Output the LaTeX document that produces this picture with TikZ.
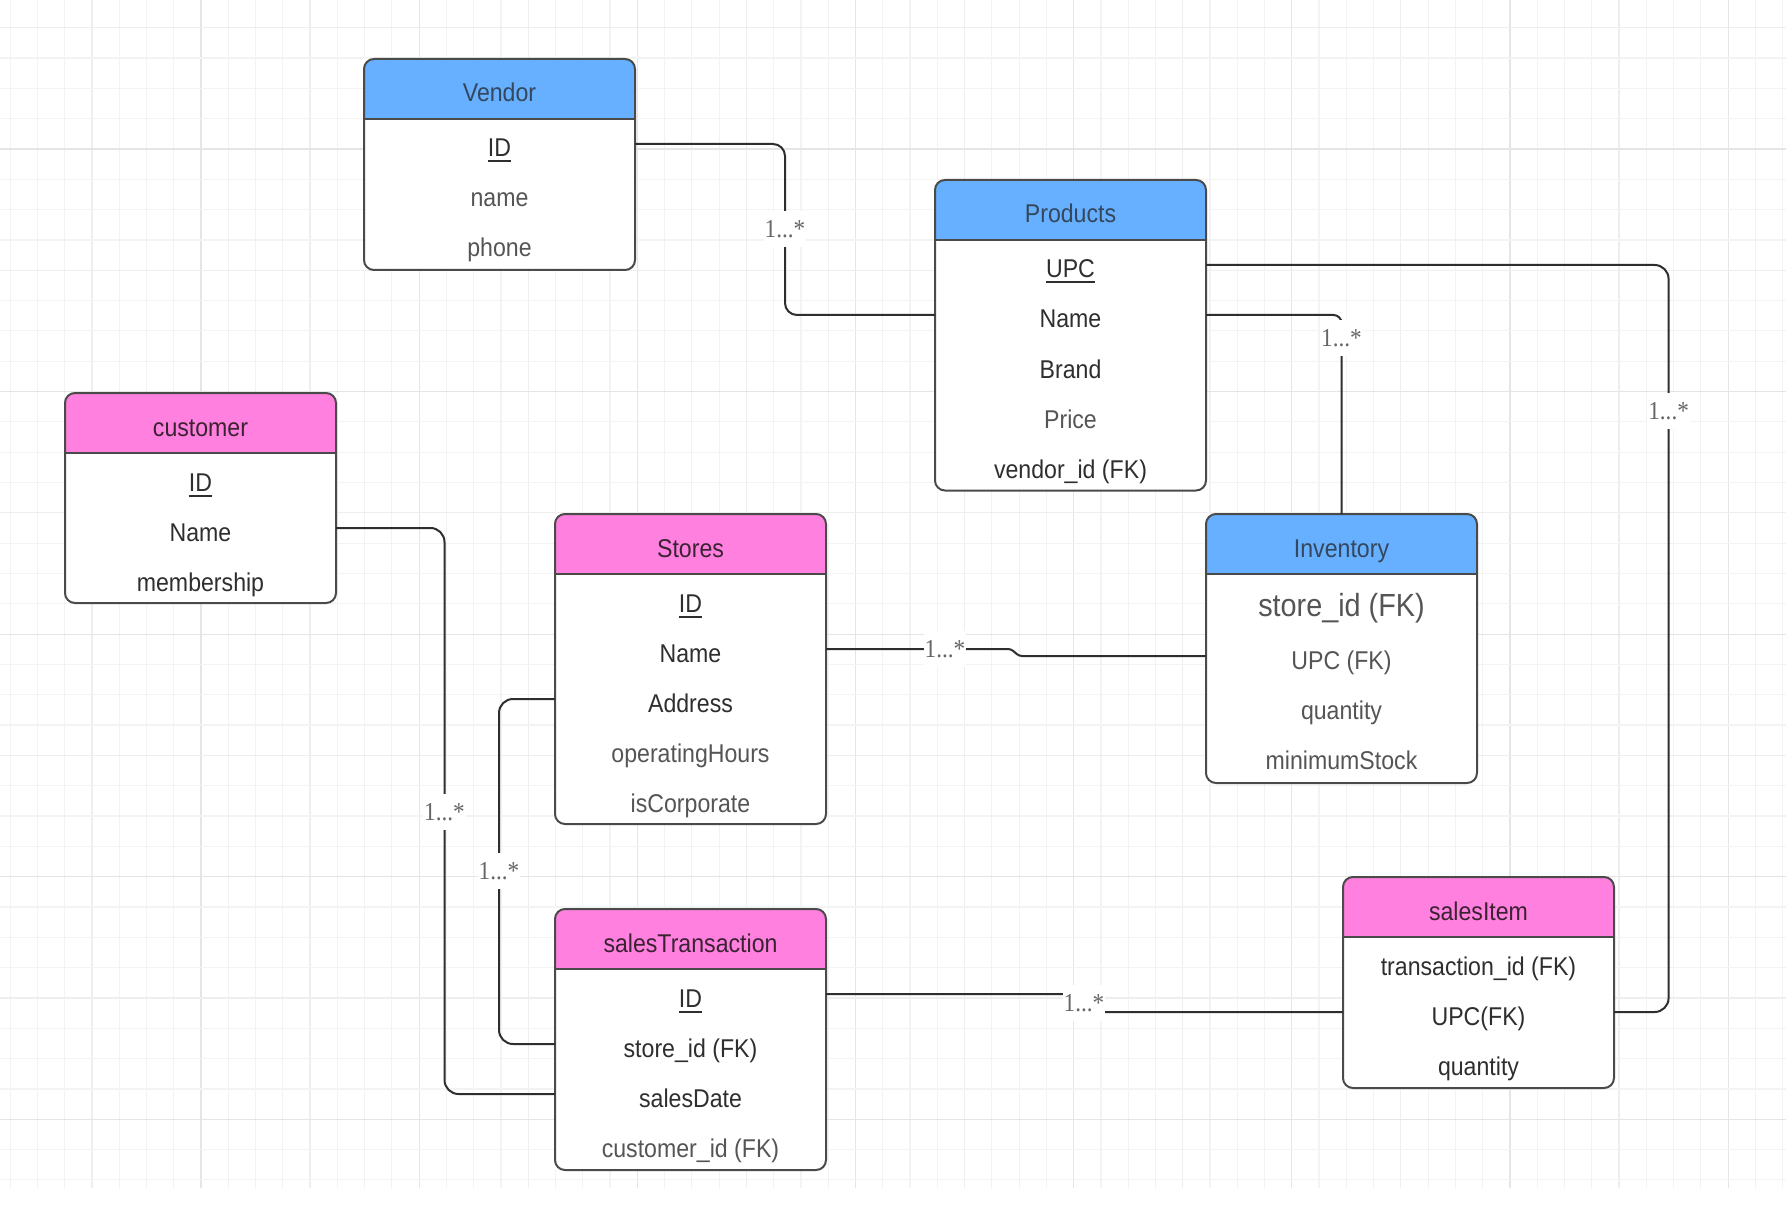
\documentclass[tikz,border=0pt]{standalone}
\usepackage{fontspec}
\setmainfont{Liberation Sans}[FakeStretch=0.9]
\newfontfamily\lblfont{Liberation Serif}[FakeStretch=0.9]
\usetikzlibrary{calc}

\definecolor{hblue}{HTML}{66B0FF}
\definecolor{hpink}{HTML}{FF80DE}
\definecolor{framecol}{HTML}{4A4A4A}
\definecolor{txtdark}{HTML}{2E2E2E}
\definecolor{txtlight}{HTML}{555555}
\definecolor{titleblue}{HTML}{34475C}
\definecolor{titlepink}{HTML}{3A2233}
\definecolor{conncol}{HTML}{2E2E2E}
\definecolor{lblcol}{HTML}{666666}
\definecolor{gridminor}{HTML}{F3F3F3}
\definecolor{gridmid}{HTML}{EEEEEE}
\definecolor{gridmajor}{HTML}{E5E5E5}

\newcommand\pkul[1]{\setbox0\hbox{#1}\rlap{\rule[-5.5pt]{\wd0}{2pt}}\box0}

\tikzset{
  tblbox/.style={rectangle, minimum width=271pt, inner sep=0pt, outer sep=0pt, fill=white, anchor=north west},
  framestyle/.style={draw=framecol, line width=2pt},
  rowtxt/.style={font=\fontsize{25.7}{30}\selectfont, text=txtdark, text height=26pt, text depth=0pt, inner sep=0pt},
  titletxt/.style={rowtxt},
  conn/.style={draw=conncol, line width=2pt},
  lbl/.style={font=\lblfont\fontsize{25.8}{30}\selectfont, text=lblcol, fill=white, inner xsep=1pt, inner ysep=9pt},
}

% name, left, top, height, fill, title colour, title
\newcommand\ertable[7]{%
  \node[tblbox, minimum height=#4pt] (#1) at (#2,#3) {};
  \begin{scope}
    \clip[rounded corners=10pt] (#1.south west) rectangle (#1.north east);
    \fill[#5] (#1.north west) rectangle ([yshift=-60pt]#1.north east);
  \end{scope}
  \draw[framestyle] ([yshift=-60pt]#1.north west) -- ([yshift=-60pt]#1.north east);
  \draw[framestyle, rounded corners=10pt] (#1.south west) rectangle (#1.north east);
  \node[titletxt, text=#6] (#1-h) at ([yshift=-30pt]#1.north) {#7};
}
% name, table, offset, colour, text
\newcommand\errow[5]{\node[rowtxt, text=#4] (#1) at ([yshift=-#3pt]#2.north) {#5};}

\begin{document}
\begin{tikzpicture}[x=1pt, y=-1pt]
\useasboundingbox (0,0) rectangle (1786,1206);
\fill[white] (0,0) rectangle (1786,1206);

% background grid
\foreach \i in {0,...,65}{
  \pgfmathtruncatemacro\ma{mod(\i+1,8)}
  \pgfmathtruncatemacro\mb{mod(\i+1,4)}
  \ifnum\ma=0 \def\gc{gridmajor}\else\ifnum\mb=0 \def\gc{gridmid}\else\def\gc{gridminor}\fi\fi
  \draw[draw=\gc, line width=1.2pt] ({10.1+\i*27.27},0) -- ({10.1+\i*27.27},1188);
}
\foreach \i in {0,...,38}{
  \pgfmathtruncatemacro\ma{mod(\i+4,8)}
  \pgfmathtruncatemacro\mb{mod(\i,4)}
  \ifnum\ma=0 \def\gc{gridmajor}\else\ifnum\mb=0 \def\gc{gridmid}\else\def\gc{gridminor}\fi\fi
  \draw[draw=\gc, line width=1.2pt] (0,{27.7+\i*30.32}) -- (1786,{27.7+\i*30.32});
}

% tables
\ertable{vendor}{364}{59}{211}{hblue}{titleblue}{Vendor}
\errow{vendor-id}{vendor}{85}{txtdark}{\pkul{ID}}
\errow{vendor-name}{vendor}{135}{txtlight}{name}
\errow{vendor-phone}{vendor}{185}{txtlight}{phone}

\ertable{products}{935}{180}{310.5}{hblue}{titleblue}{Products}
\errow{products-upc}{products}{85}{txtdark}{\pkul{UPC}}
\errow{products-name}{products}{135}{txtdark}{Name}
\errow{products-brand}{products}{185}{txtdark}{Brand}
\errow{products-price}{products}{235}{txtlight}{Price}
\errow{products-vendor}{products}{285}{txtdark}{vendor\_id (FK)}

\ertable{customer}{65}{393}{210}{hpink}{titlepink}{customer}
\errow{customer-id}{customer}{85}{txtdark}{\pkul{ID}}
\errow{customer-name}{customer}{135}{txtdark}{Name}
\errow{customer-member}{customer}{185}{txtdark}{membership}

\ertable{stores}{555}{514}{310}{hpink}{titlepink}{Stores}
\errow{stores-id}{stores}{85}{txtdark}{\pkul{ID}}
\errow{stores-name}{stores}{135}{txtdark}{Name}
\errow{stores-address}{stores}{185}{txtdark}{Address}
\errow{stores-hours}{stores}{235}{txtlight}{operatingHours}
\errow{stores-corp}{stores}{285}{txtlight}{isCorporate}

\ertable{inventory}{1206}{514}{269}{hblue}{titleblue}{Inventory}
\node[rowtxt, text=txtlight, font=\fontsize{32}{36}\selectfont, text height=32pt] (inventory-store) at ([yshift=-86pt]inventory.north) {store\_id (FK)};
\errow{inventory-upc}{inventory}{142}{txtlight}{UPC (FK)}
\errow{inventory-qty}{inventory}{192}{txtlight}{quantity}
\errow{inventory-min}{inventory}{242}{txtlight}{minimumStock}

\ertable{st}{555}{909}{261}{hpink}{titlepink}{salesTransaction}
\errow{st-id}{st}{85}{txtdark}{\pkul{ID}}
\errow{st-store}{st}{135}{txtdark}{store\_id (FK)}
\errow{st-date}{st}{185}{txtdark}{salesDate}
\errow{st-cust}{st}{235}{txtlight}{customer\_id (FK)}

\ertable{salesitem}{1343}{877}{211}{hpink}{titlepink}{salesItem}
\errow{salesitem-trans}{salesitem}{85}{txtdark}{transaction\_id (FK)}
\errow{salesitem-upc}{salesitem}{135}{txtdark}{UPC(FK)}
\errow{salesitem-qty}{salesitem}{185}{txtdark}{quantity}

% connectors
\coordinate (l1) at (785,229);
\coordinate (l2) at (1341.5,338);
\coordinate (l3) at (1668.6,411);
\coordinate (l4) at (444.5,812);
\coordinate (l5) at (499,871);
\coordinate (l6) at (945,0);
\coordinate (j6) at (1015,0);
\coordinate (j7) at (1084,0);

\draw[conn, rounded corners=12pt] (vendor-id -| vendor.east) -| (l1) |- (products-name -| products.west);
\draw[conn, rounded corners=8pt] (products-name -| products.east) -| (inventory.north);
\draw[conn, rounded corners=14pt] (products-upc -| products.east) -| (l3) |- (salesitem-upc -| salesitem.east);
\draw[conn, rounded corners=14pt] (customer-name -| customer.east) -| (l4) |- (st-date -| st.west);
\draw[conn, rounded corners=14pt] (stores-address -| stores.west) -| (l5) |- (st-store -| st.west);
\draw[conn, rounded corners=3pt] (stores-name -| stores.east) -- ([xshift=-4pt]stores-name -| j6) -- ([xshift=4pt]inventory-upc -| j6) -- (inventory-upc -| inventory.west);
\draw[conn, rounded corners=3pt] (st-id -| st.east) -- ([xshift=-4pt]st-id -| j7) -- ([xshift=4pt]salesitem-upc -| j7) -- (salesitem-upc -| salesitem.west);

\node[lbl] (lab1) at (l1) {1...*};
\node[lbl] (lab2) at (l2) {1...*};
\node[lbl] (lab3) at (l3) {1...*};
\node[lbl] (lab4) at (l4) {1...*};
\node[lbl] (lab5) at (l5) {1...*};
\node[lbl] (lab6) at (stores-name -| l6) {1...*};
\node[lbl] (lab7) at ($(st-id -| j7)!0.5!(salesitem-upc -| j7)$) {1...*};
\end{tikzpicture}
\end{document}
